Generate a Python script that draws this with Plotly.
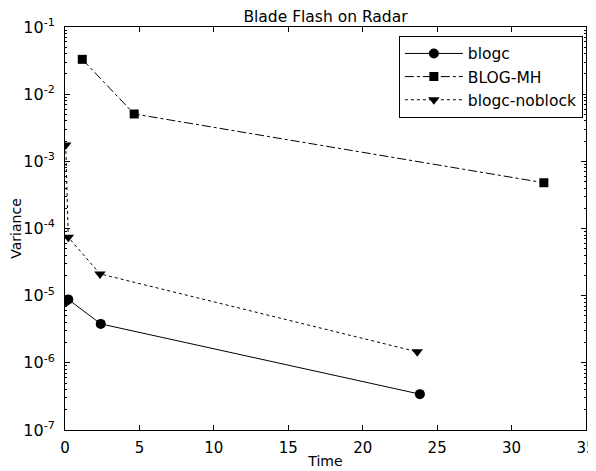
import plotly.graph_objects as go

# Data
blogc_time = [0.04, 0.22, 2.4, 23.84]
blogc_var = [8.3e-6, 8.8e-6, 3.8e-6, 3.42e-7]

mh_time = [1.16, 4.65, 32.17]
mh_var = [0.033, 5.07e-3, 4.8e-4]

noblock_time = [0.05, 0.22, 2.35, 23.66]
noblock_var = [1.75e-3, 7.4e-5, 2.11e-5, 1.46e-6]

x_ticks = [0, 5, 10, 15, 20, 25, 30, 35]
y_exps = [-7, -6, -5, -4, -3, -2, -1]

FONT = "DejaVu Sans"
OFF = 8  # page body margin

W, H = 596 - OFF, 471 - OFF

fig = go.Figure()
fig.add_trace(go.Scatter(x=blogc_time, y=blogc_var, name="blogc", mode="lines+markers",
                         line=dict(color="black", width=1, dash="solid"),
                         marker=dict(symbol="circle", size=10, color="black")))
fig.add_trace(go.Scatter(x=mh_time, y=mh_var, name="BLOG-MH", mode="lines+markers",
                         line=dict(color="black", width=1, dash="dashdot"),
                         marker=dict(symbol="square", size=9, color="black")))
fig.add_trace(go.Scatter(x=noblock_time, y=noblock_var, name="blogc-noblock", mode="lines+markers",
                         line=dict(color="black", width=1, dash="dot"),
                         marker=dict(symbol="triangle-down", size=10, color="black")))

minor_vals = [m * 10 ** e for e in range(-7, -1) for m in range(2, 10)]

fig.update_layout(
    width=W, height=H,
    margin=dict(l=65 - OFF, r=W - (586 - OFF), t=27 - OFF, b=H - (430 - OFF), autoexpand=False),
    paper_bgcolor="white", plot_bgcolor="white",
    font=dict(family=FONT, size=14, color="black"),
    title=dict(text="Blade Flash on Radar", x=((65 + 586) / 2 - OFF) / W, xanchor="center",
               y=1 - 9 / H, yanchor="middle", font=dict(size=15.5)),
    showlegend=True,
    legend=dict(x=0.994, y=0.978, xanchor="right", yanchor="top",
                bordercolor="black", borderwidth=1, bgcolor="white",
                itemwidth=58, font=dict(size=15.5)),
)
fig.update_xaxes(range=[0, 35], tickvals=x_ticks, ticktext=[str(v) for v in x_ticks],
                 automargin=False,
                 ticks="inside", ticklen=5, tickcolor="black", showline=True, linecolor="black",
                 linewidth=1, mirror="allticks", showgrid=False, zeroline=False,
                 title=dict(text="Time", standoff=0, font=dict(size=14)),
                 tickfont=dict(size=15), ticklabelstandoff=4)
fig.update_yaxes(type="log", range=[-7, -1], automargin=False,
                 tickvals=[10 ** e for e in y_exps],
                 ticktext=["10<sup>%d</sup>" % e for e in y_exps],
                 ticks="inside", ticklen=5, tickcolor="black", showline=True, linecolor="black",
                 linewidth=1, mirror="allticks", showgrid=False, zeroline=False,
                 minor=dict(tickvals=minor_vals, ticks="inside", ticklen=2, tickcolor="black", showgrid=False),
                 title=dict(text="Variance", standoff=6, font=dict(size=14)),
                 tickfont=dict(size=16), ticklabelstandoff=6)

fig.write_html("out.html")
